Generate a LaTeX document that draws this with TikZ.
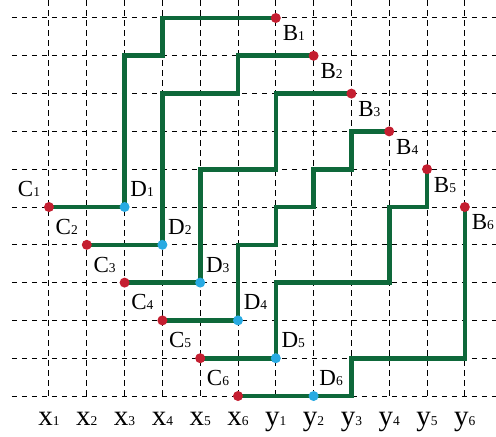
\documentclass[tikz,border=0pt]{standalone}
\usepackage{fontspec}
\setmainfont{Liberation Serif}
\usetikzlibrary{positioning, backgrounds}

\definecolor{pathgreen}{RGB}{14,104,58}
\definecolor{dotred}{RGB}{196,30,48}
\definecolor{dotblue}{RGB}{40,170,226}

\newcommand{\subidx}[1]{{\fontsize{13.5}{14}\selectfont #1}}

\tikzset{
  gridline/.style={black, line width=1pt, dash pattern=on 5.5pt off 4.5pt},
  route/.style={pathgreen, line width=4.6pt},
  enddot/.style={circle, fill=dotred, inner sep=0pt, minimum size=10pt},
  middot/.style={circle, fill=dotblue, inner sep=0pt, minimum size=10pt},
  ptlabel/.style={font=\fontsize{23}{24}\selectfont, inner sep=0pt},
  axislabel/.style={font=\fontsize{29}{30}\selectfont, inner sep=0pt, anchor=base}
}

\begin{document}
\begin{tikzpicture}[x=37.8pt, y=37.8pt]
  \useasboundingbox (-1.296,0.476) rectangle (11.825,-11.058);

  % end points C, B and crossing points D
  \foreach \i in {1,...,6} {
    \node[enddot] (C\i) at ({\i-1},{-\i-4}) {};
    \node[middot] (D\i) at ({\i+1},{-\i-4}) {};
    \node[enddot] (B\i) at ({\i+5},{-\i+1}) {};
    \node[ptlabel, xshift=-20pt, yshift=18pt] (C\i-lab) at (C\i) {C\subidx{\i}};
    \node[ptlabel, xshift=17.5pt, yshift=18pt] (D\i-lab) at (D\i) {D\subidx{\i}};
    \node[ptlabel, xshift=18pt, yshift=-15.5pt] (B\i-lab) at (B\i) {B\subidx{\i}};
  }

  % column names
  \foreach \i in {1,...,6} {
    \node[axislabel] (X\i) at ({\i-1},-10.767) {x\subidx{\i}};
    \node[axislabel] (Y\i) at ({\i+5},-10.767) {y\subidx{\i}};
  }

  \begin{scope}[on background layer]
    \foreach \c in {0,...,11}
      \draw[gridline] (\c,0.476) -- (\c,-10);
    \foreach \r in {0,...,10}
      \draw[gridline] (-0.98,-\r) -- (11.825,-\r);

    % the six routes
    \draw[route] (C1.center) -- (D1.center) |- (D2 |- B2) |- (B1.center);
    \draw[route] (C2.center) -- (D2.center) |- (D4 |- B3) |- (B2.center);
    \draw[route] (C3.center) -- (D3.center) |- (D5 |- B5) |- (B3.center);
    \draw[route] (C4.center) -- (D4.center) |- (D5 |- C2) |- (D6 |- C1)
                 |- (B3 |- B5) |- (B4.center);
    \draw[route] (C5.center) -- (D5.center) |- (B4 |- C3) |- (B5 |- C1)
                 -- (B5.center);
    \draw[route] (C6.center) -- (D6.center) -| (B3 |- C5) -| (B6.center);
  \end{scope}
\end{tikzpicture}
\end{document}
